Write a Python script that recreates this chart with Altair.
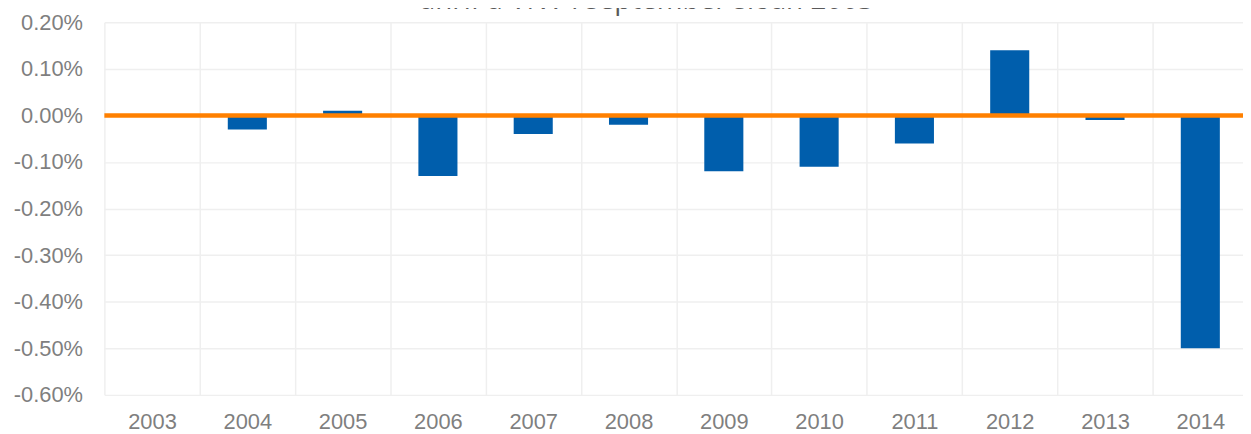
import altair as alt
import pandas as pd

years = ["2003", "2004", "2005", "2006", "2007", "2008",
         "2009", "2010", "2011", "2012", "2013", "2014"]
values_pct = [0.0, -0.03, 0.01, -0.13, -0.04, -0.02,
              -0.12, -0.11, -0.06, 0.14, -0.01, -0.50]
y_ticks_pct = [0.20, 0.10, 0.00, -0.10, -0.20, -0.30, -0.40, -0.50, -0.60]
title_text = "áhrif á VNV í september síðan 2003"

df = pd.DataFrame({"year": years, "value": [v / 100 for v in values_pct]})
zero_df = pd.DataFrame({"z": [0.0]})
title_df = pd.DataFrame({"t": [title_text]})

GRID = "#efefef"
LABEL = "#7f7f7f"
FONT = "Liberation Sans"

bars = alt.Chart(df).mark_bar(color="#005EAC", width=alt.RelativeBandSize(0.41)).encode(
    x=alt.X(
        "year:N",
        sort=years,
        scale=alt.Scale(paddingInner=0, paddingOuter=0),
        axis=alt.Axis(
            title=None, labelAngle=0, tickBand="extent", grid=True,
            ticks=False, domain=False, labelFontSize=22, labelColor=LABEL,
            labelFont=FONT, labelPadding=17, gridColor=GRID, gridWidth=1.5,
        ),
    ),
    y=alt.Y(
        "value:Q",
        scale=alt.Scale(domain=[-0.006, 0.002], nice=False, zero=True),
        axis=alt.Axis(
            title=None, format=".2%", values=[v / 100 for v in y_ticks_pct],
            labelExpr="replace(datum.label, '\u2212', '-')",
            grid=True, ticks=False, domain=False, labelFontSize=22,
            labelColor=LABEL, labelFont=FONT, labelPadding=22,
            gridColor=GRID, gridWidth=1.5,
        ),
    ),
)

zero_line = alt.Chart(zero_df).mark_rule(color="#FF8000", strokeWidth=4.5).encode(
    y="z:Q"
)

title = alt.Chart(title_df).mark_text(
    font="Open Sans", fontSize=28, color="#595959", align="center",
    baseline="alphabetic",
).encode(text="t:N", x=alt.value(546), y=alt.value(-13))

chart = alt.layer(bars, zero_line, title).properties(
    width=1151,
    height=375,
    autosize=alt.AutoSizeParams(type="none"),
    padding={"left": 97, "top": 13, "right": -5, "bottom": 38},
).configure_view(stroke=None)

chart.save("out.html", embed_options={"renderer": "svg", "actions": False})
